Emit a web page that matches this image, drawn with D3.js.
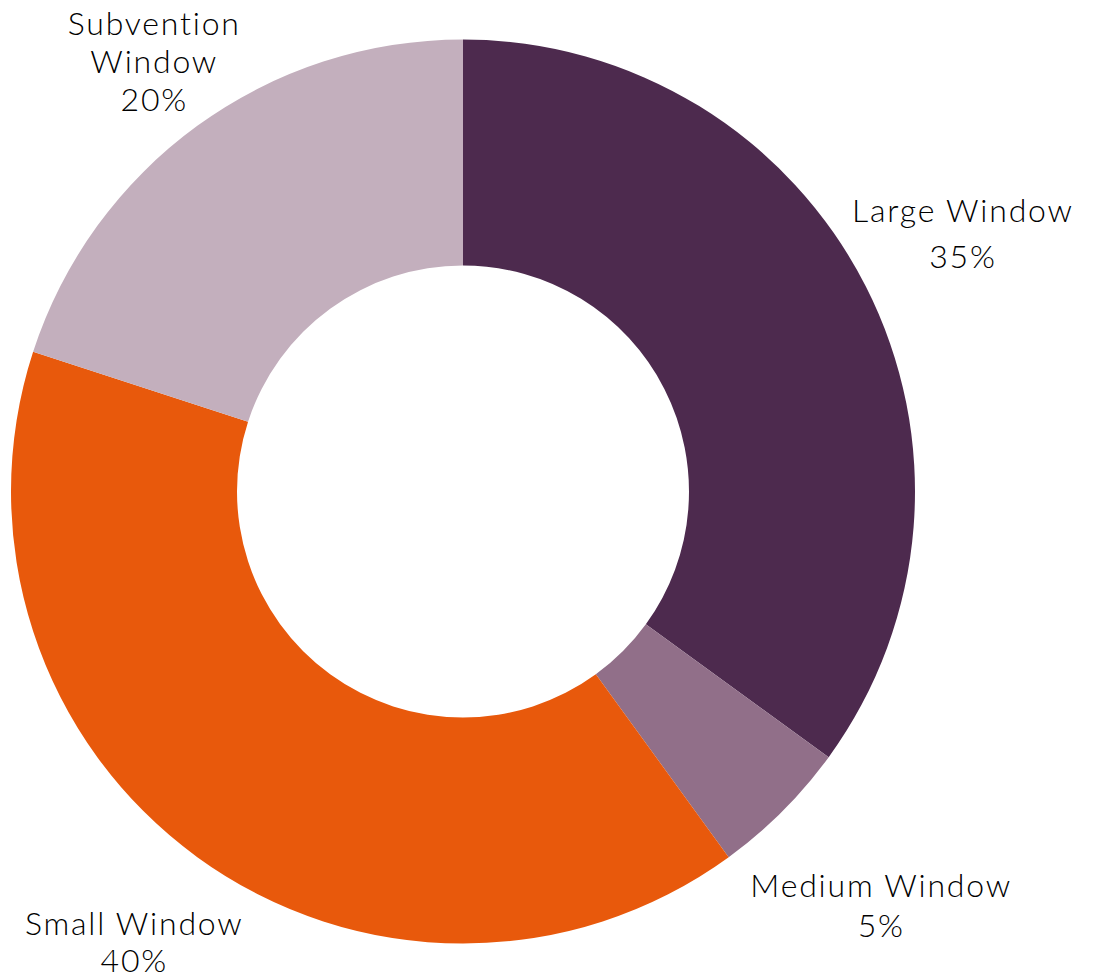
<!DOCTYPE html>
<html>
<head>
<meta charset="utf-8">
<script src="https://cdn.jsdelivr.net/npm/d3@7"></script>
<style>
  html, body { margin: 0; padding: 0; background: #ffffff; }
  svg { display: block; }
  text { font-family: Lato, "Open Sans", sans-serif; font-weight: 300; fill: #000; }
</style>
</head>
<body>
<svg id="chart" width="1093" height="974"></svg>
<script>
const categories = ["Large Window", "Medium Window", "Small Window", "Subvention Window"];
const shares = [35, 5, 40, 20];
const labelLines = [["Large Window", "35%"], ["Medium Window", "5%"], ["Small Window", "40%"], ["Subvention", "Window", "20%"]];
const colors = ["#4d2a4e", "#916f89", "#e8590c", "#c3afbd"];

const W = 1093, H = 974;
const cx = 463, cy = 491.5;
const outerR = 452, innerR = 226;
// layout: label distance from centre, per slice
const labelR = [560, 590, 561, 527];
const lineGap = [46, 40, 37, 38];

const svg = d3.select("#chart");
const g = svg.append("g").attr("transform", `translate(${cx},${cy})`);

const data = categories.map((c, i) => ({ name: c, value: shares[i], idx: i }));
const pie = d3.pie().value(d => d.value).sort(null);
const arc = d3.arc().innerRadius(innerR).outerRadius(outerR);
const color = d3.scaleOrdinal().domain(categories).range(colors);

const arcs = pie(data);
g.selectAll("path.slice").data(arcs).join("path")
  .attr("class", "slice")
  .attr("d", arc)
  .attr("fill", d => color(d.data.name));

arcs.forEach(a => {
  const i = a.data.idx;
  const mid = (a.startAngle + a.endAngle) / 2;
  const x = labelR[i] * Math.sin(mid);
  const y = -labelR[i] * Math.cos(mid);
  const lines = labelLines[i];
  const gap = lineGap[i];
  const t = g.append("text")
    .attr("text-anchor", "middle")
    .attr("font-size", 32)
    .attr("letter-spacing", "1.8px");
  const y0 = y - (lines.length - 1) * gap / 2 + 8;
  lines.forEach((ln, k) => {
    t.append("tspan").attr("x", x + 1).attr("y", y0 + k * gap).text(ln);
  });
});
</script>
</body>
</html>
